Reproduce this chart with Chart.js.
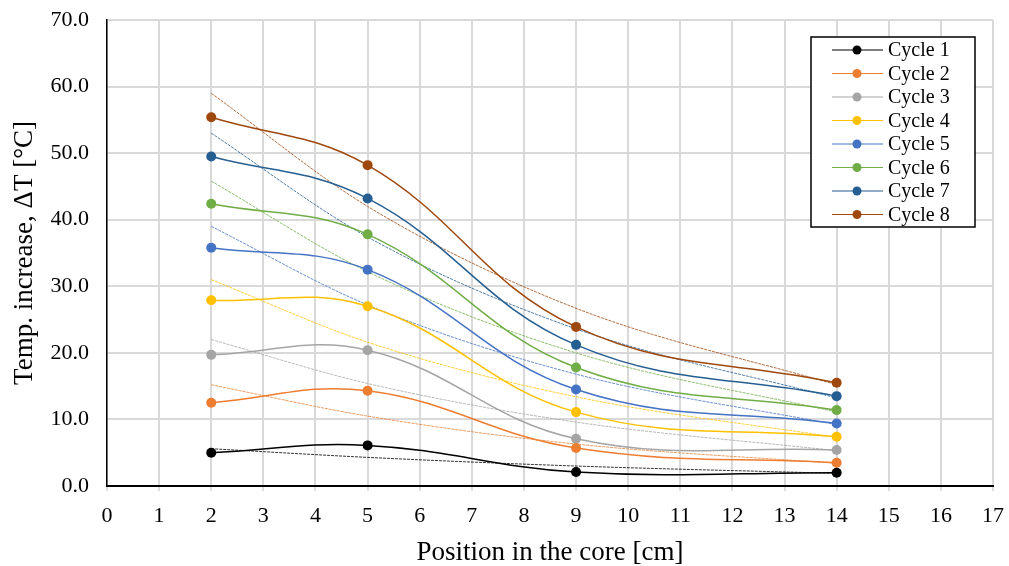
<!DOCTYPE html>
<html>
<head>
<meta charset="utf-8">
<script src="https://cdn.jsdelivr.net/npm/chart.js@4.4.0/dist/chart.umd.min.js"></script>
<style>
  html, body { margin: 0; padding: 0; background: #fff; }
  #wrap { width: 1009px; height: 566px; }
</style>
</head>
<body>
<div id="wrap"><canvas id="lineChart" width="1009" height="566"></canvas></div>
<script>
// measured positions in the core [cm]
var positions = [2, 5, 9, 14];
var cycleNames = ['Cycle 1', 'Cycle 2', 'Cycle 3', 'Cycle 4', 'Cycle 5', 'Cycle 6', 'Cycle 7', 'Cycle 8'];
var cycleColors = ['#000000', '#ED7D31', '#A5A5A5', '#FFC000', '#4472C4', '#70AD47', '#255E91', '#9E480E'];

// temperature increase per cycle [°C]
var cycle1 = [5.0, 6.1, 2.1, 2.0];
var cycle2 = [12.5, 14.3, 5.7, 3.5];
var cycle3 = [19.7, 20.4, 7.1, 5.4];
var cycle4 = [27.9, 27.0, 11.1, 7.4];
var cycle5 = [35.8, 32.5, 14.5, 9.4];
var cycle6 = [42.4, 37.8, 17.8, 11.4];
var cycle7 = [49.5, 43.2, 21.2, 13.5];
var cycle8 = [55.4, 48.2, 23.9, 15.5];

// exponential trend lines, read at the same positions
var trend1 = [5.6, 4.3, 3.0, 1.9];
var trend2 = [15.2, 10.5, 6.3, 3.4];
var trend3 = [22.0, 15.4, 9.6, 5.3];
var trend4 = [31.0, 21.6, 13.4, 7.3];
var trend5 = [39.0, 27.2, 16.8, 9.2];
var trend6 = [45.8, 32.2, 20.0, 11.1];
var trend7 = [53.0, 37.4, 23.6, 13.2];
var trend8 = [59.0, 42.0, 26.7, 15.2];

var xTicks = { min: 0, max: 17, step: 1 };
var yTicks = { min: 0, max: 70, step: 10 };

var cycles = [cycle1, cycle2, cycle3, cycle4, cycle5, cycle6, cycle7, cycle8];
var trends = [trend1, trend2, trend3, trend4, trend5, trend6, trend7, trend8];

function toPoints(values) {
    return values.map(function(v, i) { return { x: positions[i], y: v }; });
}

var datasets = [];
cycles.forEach(function(values, i) {
    datasets.push({
        label: cycleNames[i],
        data: toPoints(values),
        borderColor: cycleColors[i],
        backgroundColor: cycleColors[i],
        borderWidth: 1.5,
        pointRadius: 5,
        pointBorderWidth: 0,
        pointHoverRadius: 5,
        tension: 0.4,
        fill: false,
        order: 1
    });
});
trends.forEach(function(values, i) {
    datasets.push({
        label: 'trend ' + (i + 1),
        data: toPoints(values),
        borderColor: cycleColors[i],
        borderWidth: 0.8,
        borderDash: [3, 1],
        pointRadius: 0,
        cubicInterpolationMode: 'monotone',
        fill: false,
        order: 2
    });
});

var serif = '"Liberation Serif", "Times New Roman", serif';

// legend box drawn inside the plot area
var boxLegend = {
    id: 'boxLegend',
    afterDraw: function(chart) {
        var ctx = chart.ctx;
        var left = 811, top = 37, w = 164, h = 190;
        ctx.save();
        ctx.fillStyle = '#fff';
        ctx.fillRect(left, top, w, h);
        ctx.strokeStyle = '#000';
        ctx.lineWidth = 1.5;
        ctx.strokeRect(left, top, w, h);
        ctx.font = '20px ' + serif;
        ctx.textBaseline = 'middle';
        ctx.textAlign = 'left';
        cycleNames.forEach(function(name, i) {
            var y = 50 + i * 23.5;
            ctx.strokeStyle = cycleColors[i];
            ctx.lineWidth = 1.2;
            ctx.beginPath();
            ctx.moveTo(832, y);
            ctx.lineTo(883, y);
            ctx.stroke();
            ctx.fillStyle = cycleColors[i];
            ctx.beginPath();
            ctx.arc(857, y, 4.5, 0, Math.PI * 2);
            ctx.fill();
            ctx.fillStyle = '#000';
            ctx.fillText(name, 888, y + 1);
        });
        ctx.restore();
    }
};

var ctx = document.getElementById('lineChart').getContext('2d');
var myChart = new Chart(ctx, {
    type: 'line',
    data: { datasets: datasets },
    options: {
        responsive: false,
        animation: false,
        events: [],
        layout: { padding: { top: 20, right: 16, left: 0, bottom: 0 } },
        plugins: {
            legend: { display: false },
            tooltip: { enabled: false }
        },
        scales: {
            x: {
                type: 'linear',
                min: xTicks.min,
                max: xTicks.max,
                afterFit: function(scale) {
                    scale.height = 80;
                    scale.paddingLeft = 0;
                    scale.paddingRight = 0;
                },
                ticks: {
                    stepSize: xTicks.step,
                    color: '#000',
                    padding: 12,
                    font: { family: serif, size: 22 }
                },
                grid: {
                    color: '#d9d9d9',
                    lineWidth: 2,
                    tickLength: 5,
                    tickColor: '#bfbfbf',
                    tickWidth: 1
                },
                border: { color: '#000', width: 2 },
                title: {
                    display: true,
                    text: 'Position in the core [cm]',
                    color: '#000',
                    font: { family: serif, size: 27 },
                    padding: { top: 0, bottom: -3 }
                }
            },
            y: {
                type: 'linear',
                min: yTicks.min,
                max: yTicks.max,
                afterFit: function(scale) {
                    scale.width = 107;
                    scale.paddingTop = 0;
                    scale.paddingBottom = 0;
                },
                ticks: {
                    stepSize: yTicks.step,
                    color: '#000',
                    padding: 18,
                    font: { family: serif, size: 22 },
                    callback: function(value) { return value.toFixed(1); }
                },
                grid: {
                    color: '#d9d9d9',
                    lineWidth: 2,
                    drawTicks: false
                },
                border: { color: '#000', width: 1.5 },
                title: {
                    display: true,
                    text: 'Temp. increase, ΔT [°C]',
                    color: '#000',
                    font: { family: serif, size: 27 },
                    padding: { top: 9, bottom: 0 }
                }
            }
        }
    },
    plugins: [boxLegend]
});
</script>
</body>
</html>
